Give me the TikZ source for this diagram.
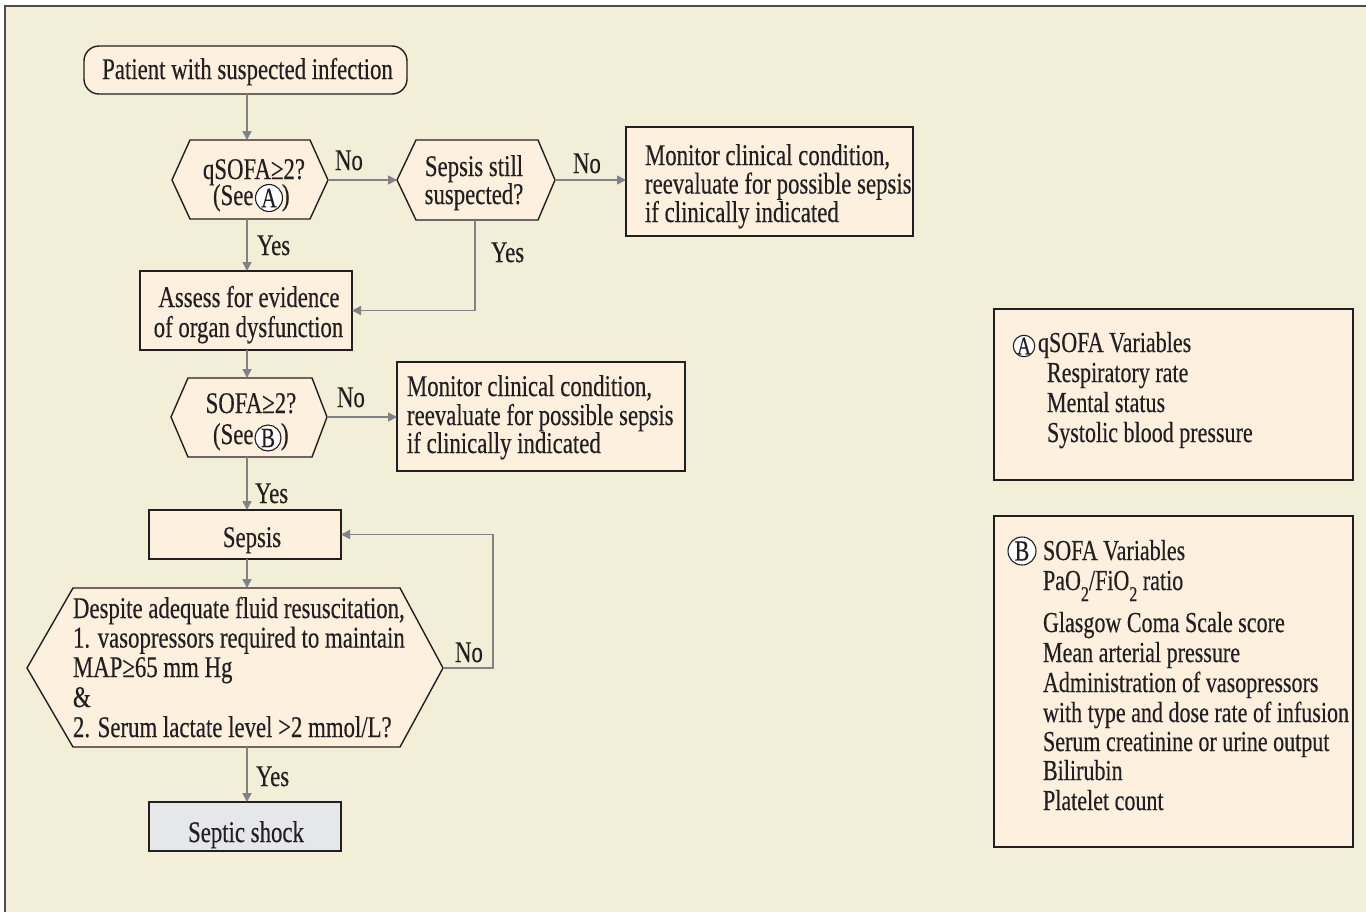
\documentclass[tikz,border=0pt]{standalone}
\usepackage{fontspec}
\setmainfont{Liberation Serif}[FakeStretch=0.76,FakeBold=0.35]
\usetikzlibrary{arrows.meta}
\definecolor{bg}{HTML}{F3EED7}
\definecolor{boxfill}{HTML}{FDF0DF}
\definecolor{shockfill}{HTML}{E6E7E9}
\definecolor{ink}{HTML}{231F20}
\definecolor{conncol}{HTML}{808285}
\definecolor{framec}{HTML}{4D4D4F}
\newcommand\subtwo{\raisebox{-11pt}{\fontsize{21}{21}\selectfont 2}}
\begin{document}
\begin{tikzpicture}[x=1pt,y=-1pt,
  font=\fontsize{30}{30}\selectfont,
  txt/.style={inner sep=0pt, outer sep=0pt, text=ink, anchor=base},
  ltxt/.style={txt, anchor=base west},
  stxt/.style={ltxt, font=\fontsize{29}{30}\selectfont},
  box/.style={draw=ink, fill=boxfill, line width=1.4pt, inner sep=0pt, outer sep=0pt},
  hexa/.style={draw=ink, fill=boxfill, line width=1.4pt, line join=miter},
  arr/.style={draw=conncol, line width=1.5pt, -{Triangle[length=9pt,width=9pt]}},
  circ/.style={circle, draw=ink, fill=white, line width=1.1pt, inner sep=0pt, outer sep=0pt, text=ink},
]
\useasboundingbox (0,0) rectangle (1366,911);
\clip (0,0) rectangle (1366,911);
\fill[white] (0,0) rectangle (1366,911);
\draw[fill=bg, draw=framec, line width=2pt] (5,6) rectangle (1380,925);

% start
\node[box, rounded corners=15pt, minimum width=323pt, minimum height=48pt] (start) at (245.5,70) {};
\node[txt] (startT) at (247.5,79) {Patient with suspected infection};

% qSOFA hexagon
\coordinate (qL) at (172,180); \coordinate (qTL) at (190,140); \coordinate (qTR) at (310,140);
\coordinate (qR) at (328,180); \coordinate (qBR) at (310,219); \coordinate (qBL) at (190,219);
\coordinate (qT) at (247,140); \coordinate (qB) at (247,219);
\draw[hexa] (qL) -- (qTL) -- (qTR) -- (qR) -- (qBR) -- (qBL) -- cycle;
\node[txt] (qT1) at (254,179) {qSOFA≥2?};
\node[ltxt] (qSee) at (213,205) {(See};
\node[circ, minimum size=27pt, font=\fontsize{28}{28}\selectfont] (qC) at (269,198) {A};
\node[ltxt] (qP) at (282,205) {)};

% sepsis still suspected
\coordinate (ssL) at (397,180); \coordinate (ssTL) at (416,140); \coordinate (ssTR) at (538,140);
\coordinate (ssR) at (555,180); \coordinate (ssBR) at (538,220); \coordinate (ssBL) at (416,220);
\coordinate (ssB) at (475,220);
\draw[hexa] (ssL) -- (ssTL) -- (ssTR) -- (ssR) -- (ssBR) -- (ssBL) -- cycle;
\node[txt] (ss1) at (474,176) {Sepsis still};
\node[txt] (ss2) at (474,204) {suspected?};

% monitor 1
\node[box, minimum width=287pt, minimum height=109pt] (mon1) at (769.5,181.5) {};
\node[ltxt] (m1a) at (645,165) {Monitor clinical condition,};
\node[ltxt] (m1b) at (645,193.5) {reevaluate for possible sepsis};
\node[ltxt] (m1c) at (645,222) {if clinically indicated};

% assess
\node[box, minimum width=212pt, minimum height=79pt] (assess) at (246,310.5) {};
\node[txt] (as1) at (249,307) {Assess for evidence};
\node[txt] (as2) at (248.5,337) {of organ dysfunction};

% SOFA hexagon
\coordinate (sL) at (171,417); \coordinate (sTL) at (188,378); \coordinate (sTR) at (312,378);
\coordinate (sR) at (327,417); \coordinate (sBR) at (312,457); \coordinate (sBL) at (188,457);
\coordinate (sT) at (247,378); \coordinate (sB) at (247,457);
\draw[hexa] (sL) -- (sTL) -- (sTR) -- (sR) -- (sBR) -- (sBL) -- cycle;
\node[txt] (sT1) at (251,413) {SOFA≥2?};
\node[ltxt] (sSee) at (213,444) {(See};
\node[circ, minimum size=26pt, font=\fontsize{28}{28}\selectfont] (sC) at (268,438) {B};
\node[ltxt] (sP) at (281,444) {)};

% monitor 2
\node[box, minimum width=288pt, minimum height=109pt] (mon2) at (541,416.5) {};
\node[ltxt] (m2a) at (407,396) {Monitor clinical condition,};
\node[ltxt] (m2b) at (407,425) {reevaluate for possible sepsis};
\node[ltxt] (m2c) at (407,453) {if clinically indicated};

% sepsis
\node[box, minimum width=192pt, minimum height=49pt] (sepsis) at (245,534.5) {};
\node[txt] (sepT) at (252,547) {Sepsis};

% big hexagon
\coordinate (bL) at (27,668); \coordinate (bTL) at (73,588); \coordinate (bTR) at (400,588);
\coordinate (bR) at (443,668); \coordinate (bBR) at (400,747); \coordinate (bBL) at (73,747);
\coordinate (bT) at (247,588); \coordinate (bB) at (247,747);
\draw[hexa] (bL) -- (bTL) -- (bTR) -- (bR) -- (bBR) -- (bBL) -- cycle;
\node[ltxt] (b1) at (73,618) {Despite adequate fluid resuscitation,};
\node[ltxt] (b2) at (73,647.5) {1. vasopressors required to maintain};
\node[ltxt] (b3) at (73,677) {MAP≥65 mm Hg};
\node[ltxt] (b4) at (73,707) {\&};
\node[ltxt] (b5) at (73,737) {2. Serum lactate level >2 mmol/L?};

% septic shock
\node[box, fill=shockfill, minimum width=192pt, minimum height=49pt] (shock) at (245,826.5) {};
\node[txt] (shT) at (246,842) {Septic shock};

% connectors
\draw[arr] (qT |- start.south) -- (qT);
\draw[arr] (qR) -- (ssL);
\draw[arr] (ssR) -- (ssR -| mon1.west);
\draw[arr] (ssB) |- (assess.east);
\draw[arr] (qB) -- (qB |- assess.north);
\draw[arr] (sT |- assess.south) -- (sT);
\draw[arr] (sR) -- (sR -| mon2.west);
\draw[arr] (sB) -- (sB |- sepsis.north);
\draw[arr] (bT |- sepsis.south) -- (bT);
\draw[arr] (bR) -- ++(50,0) |- (sepsis.east);
\draw[arr] (bB) -- (bB |- shock.north);

% labels
\node[ltxt] (no1) at (335,170) {No};
\node[ltxt] (no2) at (573,173) {No};
\node[ltxt] (no3) at (337,407) {No};
\node[ltxt] (no4) at (455,662) {No};
\node[ltxt] (yes1) at (257,255) {Yes};
\node[ltxt] (yes2) at (491,262) {Yes};
\node[ltxt] (yes3) at (255,503) {Yes};
\node[ltxt] (yes4) at (256,786) {Yes};

% box A
\node[box, minimum width=359pt, minimum height=171pt] (boxA) at (1173.5,394.5) {};
\node[circ, minimum size=21pt, font=\fontsize{25}{25}\selectfont] (cA) at (1024,346) {A};
\node[stxt] (a1) at (1038,352) {qSOFA Variables};
\node[stxt] (a2) at (1047,382) {Respiratory rate};
\node[stxt] (a3) at (1047,412) {Mental status};
\node[stxt] (a4) at (1047,442) {Systolic blood pressure};

% box B
\node[box, minimum width=359pt, minimum height=331pt] (boxB) at (1173.5,681.5) {};
\node[circ, minimum size=28pt, font=\fontsize{29}{29}\selectfont] (cB) at (1022,551) {B};
\node[stxt] (bb1) at (1043,560) {SOFA Variables};
\node[stxt] (bb2) at (1043,590) {PaO\subtwo/FiO\subtwo{} ratio};
\node[stxt] (bb3) at (1043,632) {Glasgow Coma Scale score};
\node[stxt] (bb4) at (1043,662) {Mean arterial pressure};
\node[stxt] (bb5) at (1043,692) {Administration of vasopressors};
\node[stxt] (bb6) at (1043,722) {with type and dose rate of infusion};
\node[stxt] (bb7) at (1043,751) {Serum creatinine or urine output};
\node[stxt] (bb8) at (1043,780) {Bilirubin};
\node[stxt] (bb9) at (1043,810) {Platelet count};
\end{tikzpicture}
\end{document}
